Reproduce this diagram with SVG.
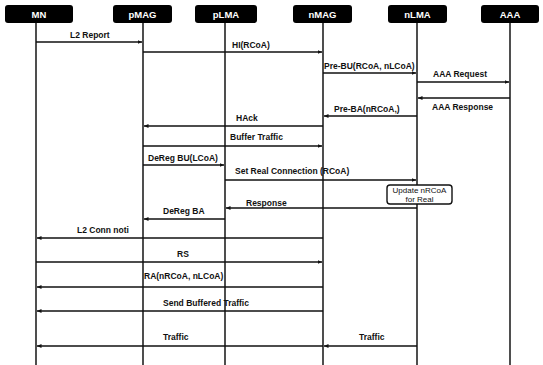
<svg xmlns="http://www.w3.org/2000/svg" width="543" height="365" viewBox="0 0 543 365">
<defs>
<marker id="ah" markerWidth="5" markerHeight="5" refX="4.5" refY="2.5" orient="auto" markerUnits="userSpaceOnUse">
<path d="M0,0.5 L4.5,2.5 L0,4.5 Z" fill="#111"/>
</marker>
</defs>
<style>
.hd{fill:#000}
.ht{fill:#fff;font-family:"Liberation Sans",Arial,sans-serif;font-weight:bold;font-size:9.5px;text-anchor:middle}
.ll{stroke:#222;stroke-width:1.6}
.msg{stroke:#111;stroke-width:1.5;fill:none;marker-end:url(#ah)}
.lb{fill:#111;font-family:"Liberation Sans",Arial,sans-serif;font-weight:bold;font-size:8.5px}
.bx{fill:#fff;stroke:#111;stroke-width:1.4}
</style>
<rect width="543" height="365" fill="#fff"/>
<g id="lifelines">
<line class="ll" x1="36" y1="22" x2="36" y2="365"/>
<line class="ll" x1="143" y1="22" x2="143" y2="365"/>
<line class="ll" x1="225" y1="22" x2="225" y2="365"/>
<line class="ll" x1="323" y1="22" x2="323" y2="365"/>
<line class="ll" x1="417" y1="22" x2="417" y2="365"/>
<line class="ll" x1="510" y1="22" x2="510" y2="365"/>
</g>
<g id="MN"><rect class="hd" x="5" y="5" width="68" height="18" rx="3"/><text class="ht" x="39" y="17.5">MN</text></g>
<g id="pMAG"><rect class="hd" x="113" y="5" width="59" height="18" rx="3"/><text class="ht" x="142.5" y="17.5">pMAG</text></g>
<g id="pLMA"><rect class="hd" x="195" y="5" width="62" height="18" rx="3"/><text class="ht" x="226" y="17.5">pLMA</text></g>
<g id="nMAG"><rect class="hd" x="293" y="5" width="59" height="18" rx="3"/><text class="ht" x="322.5" y="17.5">nMAG</text></g>
<g id="nLMA"><rect class="hd" x="388" y="5" width="59" height="18" rx="3"/><text class="ht" x="417.5" y="17.5">nLMA</text></g>
<g id="AAA"><rect class="hd" x="481" y="5" width="58" height="18" rx="3"/><text class="ht" x="510" y="17.5">AAA</text></g>
<g id="connectors">
<line class="msg" x1="36" y1="42" x2="142" y2="42"/>
<line class="msg" x1="143" y1="52" x2="322" y2="52"/>
<line class="msg" x1="323" y1="73" x2="416" y2="73"/>
<line class="msg" x1="417" y1="82" x2="509" y2="82"/>
<line class="msg" x1="510" y1="98" x2="418" y2="98"/>
<line class="msg" x1="417" y1="116" x2="324" y2="116"/>
<line class="msg" x1="323" y1="126" x2="144" y2="126"/>
<line class="msg" x1="143" y1="146" x2="322" y2="146"/>
<line class="msg" x1="143" y1="165" x2="224" y2="165"/>
<line class="msg" x1="225" y1="180" x2="416" y2="180"/>
<line class="msg" x1="417" y1="208" x2="226" y2="208"/>
<line class="msg" x1="225" y1="219" x2="144" y2="219"/>
<line class="msg" x1="323" y1="238" x2="37" y2="238"/>
<line class="msg" x1="36" y1="262" x2="322" y2="262"/>
<line class="msg" x1="323" y1="287" x2="37" y2="287"/>
<line class="msg" x1="323" y1="311" x2="37" y2="311"/>
<line class="msg" x1="323" y1="346" x2="37" y2="346"/>
<line class="msg" x1="417" y1="346" x2="324" y2="346"/>
</g>
<g id="labels">
<text class="lb" x="70" y="38">L2 Report</text>
<text class="lb" x="232" y="48">HI(RCoA)</text>
<text class="lb" x="324" y="69">Pre-BU(RCoA, nLCoA)</text>
<text class="lb" x="433" y="77">AAA Request</text>
<text class="lb" x="432" y="110">AAA Response</text>
<text class="lb" x="334" y="112">Pre-BA(nRCoA,)</text>
<text class="lb" x="236" y="121">HAck</text>
<text class="lb" x="230" y="140">Buffer Traffic</text>
<text class="lb" x="148" y="161">DeReg BU(LCoA)</text>
<text class="lb" x="235" y="174">Set Real Connection (RCoA)</text>
<text class="lb" x="246" y="206">Response</text>
<text class="lb" x="163" y="214">DeReg BA</text>
<text class="lb" x="77" y="233">L2 Conn noti</text>
<text class="lb" x="177" y="257">RS</text>
<text class="lb" x="144" y="279">RA(nRCoA, nLCoA)</text>
<text class="lb" x="163" y="306">Send Buffered Traffic</text>
<text class="lb" x="163" y="340">Traffic</text>
<text class="lb" x="359" y="340">Traffic</text>
</g>
<g id="update">
<rect class="bx" x="387" y="185" width="65" height="19" rx="3"/>
<text class="lb" x="419.5" y="193" text-anchor="middle" style="font-weight:normal;font-size:8px">Update nRCoA</text>
<text class="lb" x="419.5" y="202" text-anchor="middle" style="font-weight:normal;font-size:8px">for Real</text>
</g>
</svg>
